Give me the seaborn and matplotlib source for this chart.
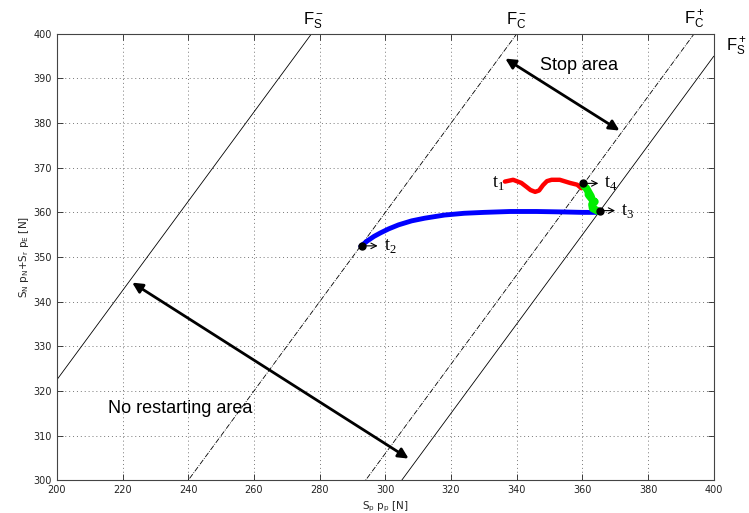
import numpy as np
import pandas as pd
import seaborn as sns
import matplotlib.pyplot as plt

# boundary lines  y = x + offset
line_names = ['F_S-', 'F_C-', 'F_C+', 'F_S+']
line_offsets = [122.5, 60.0, 6.0, -5.0]
line_styles = ['-', '-.', '-.', '-']

# trajectories
blue_x = [292.5, 294.5, 296.5, 298.5, 301, 304, 308, 312, 318, 324, 330, 338, 346, 354, 360, 364.5]
blue_y = [352.4, 353.6, 354.6, 355.4, 356.3, 357.2, 358.1, 358.7, 359.4, 359.8, 360.0, 360.2, 360.2, 360.1, 360.0, 360.0]
red_x = [336.4, 338.9, 341.4, 343.0, 344.2, 345.6, 346.8, 348.0, 349.2, 350.6, 353.1, 356.2, 358.4, 359.7]
red_y = [366.9, 367.3, 366.6, 365.7, 365.0, 364.6, 364.9, 366.1, 367.0, 367.3, 367.3, 366.6, 366.2, 365.4]
green_x = [360.4, 361.2, 362.6, 361.8, 363.6, 362.6, 363.8, 362.9, 363.6, 363.1, 364.7]
green_y = [366.0, 365.4, 364.6, 364.0, 363.2, 362.6, 362.4, 361.8, 361.4, 360.9, 360.3]

# marked instants
t_names = ['t$_\\mathregular{1}$', 't$_\\mathregular{2}$', 't$_\\mathregular{3}$', 't$_\\mathregular{4}$']
t_x = [336.4, 293.0, 365.3, 360.2]
t_y = [366.9, 352.5, 360.4, 366.5]

sns.set_style('ticks')
plt.rcParams['text.color'] = 'black'
fig, ax = plt.subplots(figsize=(7.49, 5.13), dpi=100)
fig.subplots_adjust(left=0.076, right=0.953, top=0.934, bottom=0.064)

xs = np.array([200, 400])
for off, ls in zip(line_offsets, line_styles):
    sns.lineplot(x=xs, y=xs + off, ax=ax, color='black', lw=0.6, linestyle=ls)

sns.lineplot(x=blue_x, y=blue_y, ax=ax, color='#0000ff', lw=3.5, sort=False)
sns.lineplot(x=red_x, y=red_y, ax=ax, color='#ff0000', lw=3.2, sort=False)
sns.lineplot(x=green_x, y=green_y, ax=ax, color='#00ee00', lw=5.5, sort=False)

# dots with small arrows (t2, t3, t4)
for i in [1, 2, 3]:
    ax.plot(t_x[i], t_y[i], 'o', color='black', ms=5, zorder=5)
    ax.annotate('', xy=(t_x[i] + 5.5, t_y[i]), xytext=(t_x[i], t_y[i]),
                arrowprops=dict(arrowstyle='->', lw=0.8, color='black'))
    ax.text(t_x[i] + 6.5, t_y[i], t_names[i], family='Liberation Serif',
            fontsize=13, va='center', ha='left')
ax.text(t_x[0] - 0.2, t_y[0] - 0.3, t_names[0], family='Liberation Serif',
        fontsize=13, va='center', ha='right')

# area arrows
ax.annotate('', xy=(335.8, 394.8), xytext=(372, 378),
            arrowprops=dict(arrowstyle='<|-|>', lw=2, color='black', mutation_scale=15))
ax.text(347, 393, 'Stop area', fontsize=13, va='center', ha='left', family='Liberation Sans')
ax.annotate('', xy=(222.2, 344.6), xytext=(307.8, 304.5),
            arrowprops=dict(arrowstyle='<|-|>', lw=2, color='black', mutation_scale=15))
ax.text(215.5, 316.1, 'No restarting area', fontsize=13, va='center', ha='left',
        family='Liberation Sans')

# line labels
lbl_kw = dict(fontsize=12, family='Liberation Sans', ha='center', va='bottom')
ax.text(278, 400.6, '$\\mathregular{F_S^-}$', **lbl_kw)
ax.text(340, 400.6, '$\\mathregular{F_C^-}$', **lbl_kw)
ax.text(394, 400.6, '$\\mathregular{F_C^+}$', **lbl_kw)
ax.text(407, 394.5, '$\\mathregular{F_S^+}$', fontsize=12, family='Liberation Sans',
        ha='center', va='bottom', clip_on=False)

ax.set_xlim(200, 400)
ax.set_ylim(300, 400)
ax.set_xticks(np.arange(200, 401, 20))
ax.set_yticks(np.arange(300, 401, 10))
ax.grid(True, linestyle=(0, (1, 3)), color='#777777', lw=0.7)
ax.tick_params(direction='in', length=4, labelsize=7, top=True, right=True,
               colors='#222222', width=0.6)
for s in ax.spines.values():
    s.set_linewidth(0.8)
    s.set_color('#444444')
ax.set_xlabel('S$_\\mathregular{p}$ p$_\\mathregular{p}$ [N]', fontsize=7.5, labelpad=3)
ax.set_ylabel('S$_\\mathregular{N}$ p$_\\mathregular{N}$+S$_\\mathregular{r}$ p$_\\mathregular{E}$ [N]',
              fontsize=7.5, labelpad=2)

fig.savefig('out.png', dpi=100)
